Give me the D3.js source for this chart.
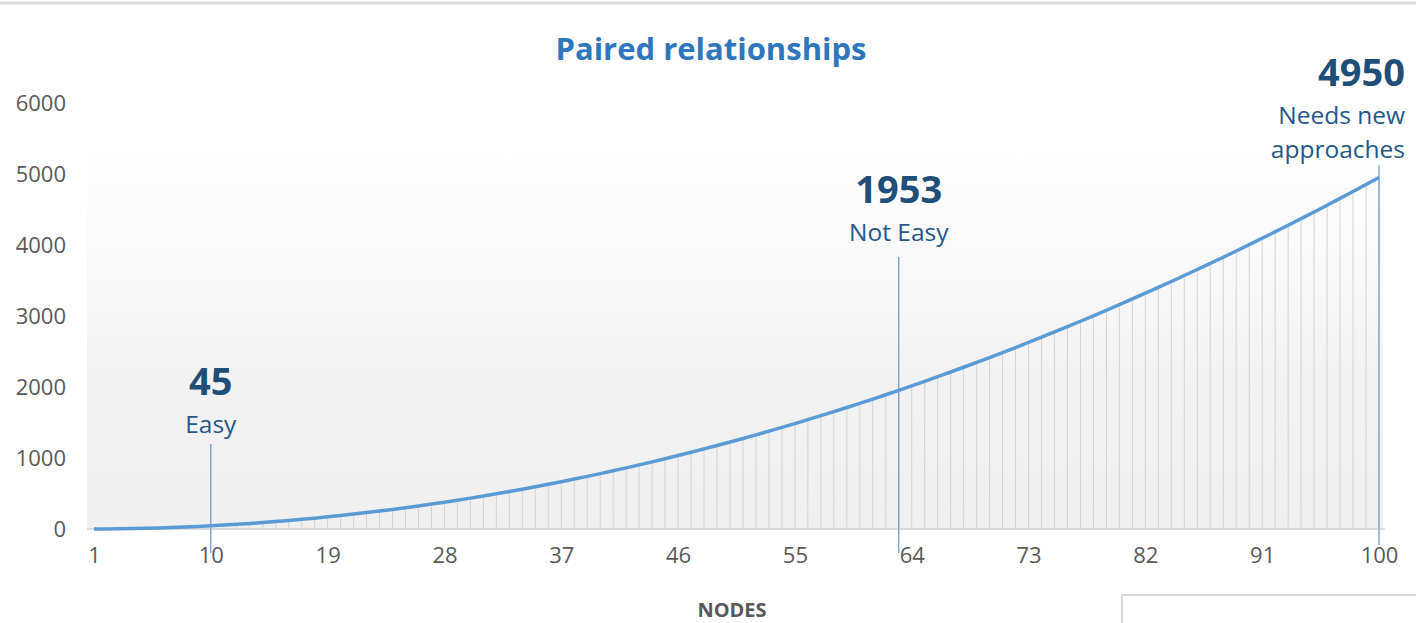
<!DOCTYPE html>
<html>
<head>
<meta charset="utf-8">
<script src="https://cdn.jsdelivr.net/npm/d3@7"></script>
<style>
  body { margin: 0; background: #fff; }
  text { font-family: "Open Sans", sans-serif; }
</style>
</head>
<body>
<script>
// categories: number of nodes
const nodes = [
  1, 2, 3, 4, 5, 6, 7, 8, 9, 10, 11, 12, 13, 14, 15, 16, 17, 18, 19, 20,
  21, 22, 23, 24, 25, 26, 27, 28, 29, 30, 31, 32, 33, 34, 35, 36, 37, 38, 39, 40,
  41, 42, 43, 44, 45, 46, 47, 48, 49, 50, 51, 52, 53, 54, 55, 56, 57, 58, 59, 60,
  61, 62, 63, 64, 65, 66, 67, 68, 69, 70, 71, 72, 73, 74, 75, 76, 77, 78, 79, 80,
  81, 82, 83, 84, 85, 86, 87, 88, 89, 90, 91, 92, 93, 94, 95, 96, 97, 98, 99, 100
];
// paired relationships per node count
const pairs = [
  0, 1, 3, 6, 10, 15, 21, 28, 36, 45,
  55, 66, 78, 91, 105, 120, 136, 153, 171, 190,
  210, 231, 253, 276, 300, 325, 351, 378, 406, 435,
  465, 496, 528, 561, 595, 630, 666, 703, 741, 780,
  820, 861, 903, 946, 990, 1035, 1081, 1128, 1176, 1225,
  1275, 1326, 1378, 1431, 1485, 1540, 1596, 1653, 1711, 1770,
  1830, 1891, 1953, 2016, 2080, 2145, 2211, 2278, 2346, 2415,
  2485, 2556, 2628, 2701, 2775, 2850, 2926, 3003, 3081, 3160,
  3240, 3321, 3403, 3486, 3570, 3655, 3741, 3828, 3916, 4005,
  4095, 4186, 4278, 4371, 4465, 4560, 4656, 4753, 4851, 4950
];
const yTicks = [0, 1000, 2000, 3000, 4000, 5000, 6000];
const xTickNodes = [1, 10, 19, 28, 37, 46, 55, 64, 73, 82, 91, 100];
const callouts = [
  { node: 10, value: "45", lines: ["Easy"] },
  { node: 63, value: "1953", lines: ["Not Easy"] },
  { node: 100, value: "4950", lines: ["Needs new", "approaches"] }
];

const W = 1416, H = 623;
const svg = d3.select("body").append("svg").attr("width", W).attr("height", H);

const x = d3.scalePoint().domain(nodes).range([94, 1379]);
const y = d3.scaleLinear().domain([0, 6000]).range([529, 103]);

// top frame line
svg.append("line").attr("x1", 0).attr("x2", W).attr("y1", 3).attr("y2", 3)
  .attr("stroke", "#d9d9d9").attr("stroke-width", 3);

// plot background gradient
const grad = svg.append("defs").append("linearGradient")
  .attr("id", "bg").attr("x1", 0).attr("x2", 0).attr("y1", 0).attr("y2", 1);
grad.append("stop").attr("offset", "0%").attr("stop-color", "#ffffff");
grad.append("stop").attr("offset", "60%").attr("stop-color", "#f2f2f2");
grad.append("stop").attr("offset", "100%").attr("stop-color", "#f0f0f0");
svg.append("rect").attr("x", 87).attr("y", 150).attr("width", 1296).attr("height", y(0) - 150)
  .attr("fill", "url(#bg)");

// title
svg.append("text").attr("x", 711).attr("y", 60).attr("text-anchor", "middle")
  .attr("font-size", 31).attr("font-weight", "bold").attr("fill", "#2f77bd")
  .text("Paired relationships");

// drop lines
svg.append("g").selectAll("line").data(nodes).join("line")
  .attr("x1", d => x(d)).attr("x2", d => x(d))
  .attr("y1", (d, i) => y(pairs[i])).attr("y2", y(0))
  .attr("stroke", "#d4d4d4").attr("stroke-width", 1);

// baseline
svg.append("line").attr("x1", 87).attr("x2", 1385).attr("y1", y(0)).attr("y2", y(0))
  .attr("stroke", "#d0d0d0").attr("stroke-width", 1.5);

// y axis
const yAxis = svg.append("g").attr("transform", "translate(66,0)")
  .call(d3.axisLeft(y).tickValues(yTicks).tickFormat(d3.format("d")).tickSize(0).tickPadding(0));
yAxis.select(".domain").remove();
yAxis.selectAll("text").attr("font-size", 22).attr("fill", "#595959")
  .attr("font-family", "Open Sans, sans-serif").attr("dy", "0.35em");

// x axis
const xAxis = svg.append("g").attr("transform", `translate(0,${y(0) + 18})`)
  .call(d3.axisBottom(x).tickValues(xTickNodes).tickSize(0).tickPadding(0));
xAxis.select(".domain").remove();
xAxis.selectAll("text").attr("font-size", 22).attr("fill", "#595959")
  .attr("font-family", "Open Sans, sans-serif").attr("dy", "0.71em");

// data line
svg.append("path").datum(pairs)
  .attr("fill", "none").attr("stroke", "#5b9bd5").attr("stroke-width", 3.5)
  .attr("stroke-linejoin", "round")
  .attr("d", d3.line().x((d, i) => x(nodes[i])).y(d => y(d)));

// callouts
const lineTops = { 10: 444, 63: 257, 100: 165 };
const textGaps = { 10: 11, 63: 16, 100: 7 };
const lineStep = 34;
callouts.forEach(c => {
  const cx = x(c.node);
  const top = lineTops[c.node];
  const bottom = c.node === 100 ? y(0) + 16 : y(0) + 24;
  svg.append("line").attr("x1", cx).attr("x2", cx).attr("y1", top).attr("y2", bottom)
    .attr("stroke", "#5b9bd5").attr("stroke-width", 1.2);
  const right = c.node === 100;
  const tx = right ? 1405 : cx;
  const anchor = right ? "end" : "middle";
  const nLines = c.lines.length;
  const firstBase = top - textGaps[c.node] - (nLines - 1) * lineStep;
  svg.append("text").attr("x", tx).attr("y", firstBase - 38).attr("text-anchor", anchor)
    .attr("font-size", 38).attr("font-weight", "bold").attr("fill", "#1f4e79")
    .text(c.value);
  c.lines.forEach((l, k) => {
    svg.append("text").attr("x", tx).attr("y", firstBase + k * lineStep).attr("text-anchor", anchor)
      .attr("font-size", 24.5).attr("fill", "#24578a").text(l);
  });
});

// x axis title
svg.append("text").attr("x", 732).attr("y", 617).attr("text-anchor", "middle")
  .attr("font-size", 20).attr("font-weight", "bold").attr("fill", "#595959")
  .text("NODES");

// box at bottom right
svg.append("rect").attr("x", 1122).attr("y", 595).attr("width", 320).attr("height", 60)
  .attr("fill", "none").attr("stroke", "#d9d9d9").attr("stroke-width", 2);
</script>
</body>
</html>
